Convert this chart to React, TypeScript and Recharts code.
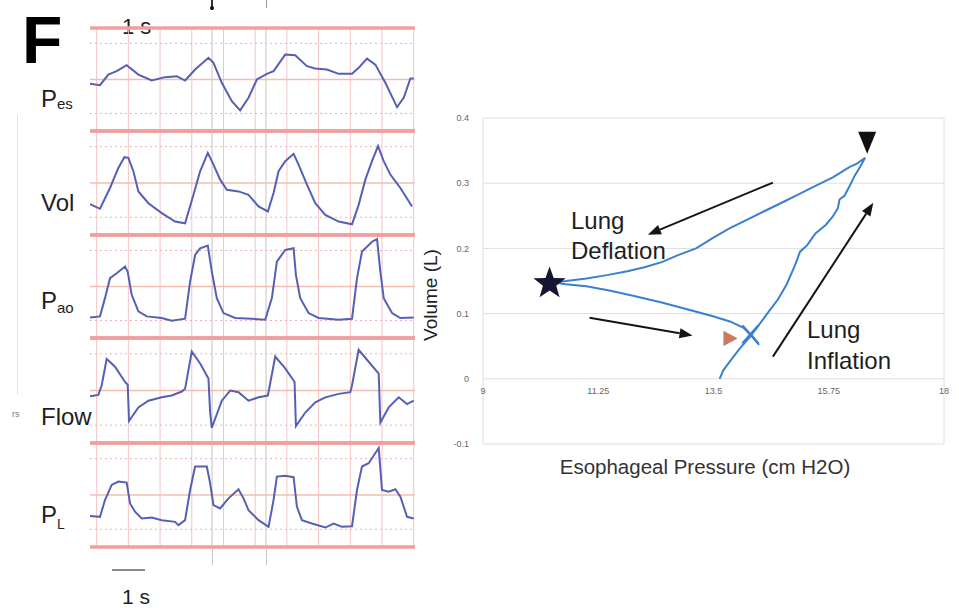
import React from 'react';
import {
  LineChart,
  Line,
  XAxis,
  YAxis,
  ReferenceLine,
  ComposedChart,
  CartesianGrid,
  Scatter,
  ReferenceDot,
} from 'recharts';

// ---------- Left panel: strip-chart traces (t in seconds, v in strip units 0..10) ----------
const pesTrace = [
  { t: -0.21, v: 4.58 }, { t: 0.105, v: 4.45 }, { t: 0.368, v: 5.48 }, { t: 0.63, v: 5.81 },
  { t: 0.947, v: 6.39 }, { t: 1.316, v: 5.48 }, { t: 1.737, v: 4.9 }, { t: 2.158, v: 5.23 },
  { t: 2.526, v: 5.32 }, { t: 2.789, v: 4.9 }, { t: 3.105, v: 5.97 }, { t: 3.526, v: 7.1 },
  { t: 3.684, v: 6.61 }, { t: 3.947, v: 4.68 }, { t: 4.263, v: 2.9 }, { t: 4.526, v: 2.0 },
  { t: 4.789, v: 3.23 }, { t: 5.053, v: 5.0 }, { t: 5.368, v: 5.55 }, { t: 5.579, v: 5.81 },
  { t: 5.947, v: 7.42 }, { t: 6.263, v: 7.35 }, { t: 6.632, v: 6.29 }, { t: 6.895, v: 6.06 },
  { t: 7.263, v: 5.97 }, { t: 7.632, v: 5.55 }, { t: 8.053, v: 5.55 }, { t: 8.263, v: 6.13 },
  { t: 8.526, v: 7.03 }, { t: 8.789, v: 6.45 }, { t: 9.105, v: 4.68 }, { t: 9.474, v: 2.32 },
  { t: 9.684, v: 3.23 }, { t: 9.895, v: 5.1 }, { t: 10.0, v: 5.1 },
];

const volTrace = [
  { t: -0.21, v: 2.97 }, { t: 0.105, v: 2.52 }, { t: 0.421, v: 4.52 }, { t: 0.684, v: 6.45 },
  { t: 0.874, v: 7.48 }, { t: 1.0, v: 7.42 }, { t: 1.158, v: 6.13 }, { t: 1.316, v: 4.19 },
  { t: 1.632, v: 3.06 }, { t: 2.053, v: 2.1 }, { t: 2.474, v: 1.29 }, { t: 2.789, v: 1.13 },
  { t: 3.053, v: 3.87 }, { t: 3.263, v: 6.13 }, { t: 3.505, v: 7.9 }, { t: 3.684, v: 6.77 },
  { t: 3.895, v: 5.32 }, { t: 4.105, v: 4.35 }, { t: 4.474, v: 4.19 }, { t: 4.789, v: 3.87 },
  { t: 5.105, v: 2.74 }, { t: 5.4, v: 2.26 }, { t: 5.579, v: 4.03 }, { t: 5.737, v: 6.13 },
  { t: 5.947, v: 7.1 }, { t: 6.211, v: 7.81 }, { t: 6.368, v: 6.77 }, { t: 6.632, v: 4.84 },
  { t: 6.895, v: 3.06 }, { t: 7.211, v: 1.94 }, { t: 7.632, v: 1.29 }, { t: 8.053, v: 1.03 },
  { t: 8.263, v: 2.9 }, { t: 8.474, v: 5.32 }, { t: 8.684, v: 7.1 }, { t: 8.874, v: 8.55 },
  { t: 9.053, v: 7.1 }, { t: 9.263, v: 5.81 }, { t: 9.579, v: 4.52 }, { t: 9.947, v: 2.74 },
];

const paoTrace = [
  { t: -0.21, v: 2.0 }, { t: 0.105, v: 2.1 }, { t: 0.263, v: 3.87 }, { t: 0.421, v: 5.81 },
  { t: 0.632, v: 6.29 }, { t: 0.895, v: 6.94 }, { t: 0.979, v: 6.45 }, { t: 1.105, v: 4.19 },
  { t: 1.316, v: 2.58 }, { t: 1.579, v: 2.1 }, { t: 2.053, v: 1.94 }, { t: 2.368, v: 1.68 },
  { t: 2.789, v: 1.87 }, { t: 2.947, v: 5.48 }, { t: 3.105, v: 8.06 }, { t: 3.263, v: 8.71 },
  { t: 3.505, v: 8.97 }, { t: 3.632, v: 6.45 }, { t: 3.789, v: 3.87 }, { t: 4.0, v: 2.42 },
  { t: 4.368, v: 1.94 }, { t: 4.895, v: 1.87 }, { t: 5.316, v: 1.77 }, { t: 5.526, v: 3.87 },
  { t: 5.684, v: 7.42 }, { t: 5.947, v: 8.55 }, { t: 6.211, v: 8.71 }, { t: 6.284, v: 6.13 },
  { t: 6.421, v: 3.87 }, { t: 6.684, v: 2.42 }, { t: 7.0, v: 1.94 }, { t: 7.632, v: 1.77 },
  { t: 8.053, v: 1.87 }, { t: 8.211, v: 5.81 }, { t: 8.368, v: 8.39 }, { t: 8.684, v: 9.35 },
  { t: 8.842, v: 9.61 }, { t: 8.947, v: 6.45 }, { t: 9.053, v: 3.87 }, { t: 9.316, v: 2.42 },
  { t: 9.579, v: 1.94 }, { t: 10.0, v: 2.0 },
];

const flowTrace = [
  { t: -0.21, v: 4.45 }, { t: 0.053, v: 4.58 }, { t: 0.158, v: 5.48 }, { t: 0.316, v: 8.0 },
  { t: 0.579, v: 7.26 }, { t: 0.895, v: 5.81 }, { t: 0.979, v: 5.55 }, { t: 1.021, v: 2.1 },
  { t: 1.316, v: 3.39 }, { t: 1.632, v: 4.03 }, { t: 2.053, v: 4.35 }, { t: 2.368, v: 4.52 },
  { t: 2.684, v: 4.9 }, { t: 2.789, v: 5.16 }, { t: 3.0, v: 8.71 }, { t: 3.263, v: 7.58 },
  { t: 3.526, v: 6.13 }, { t: 3.579, v: 2.9 }, { t: 3.632, v: 1.45 }, { t: 3.947, v: 4.03 },
  { t: 4.211, v: 5.0 }, { t: 4.474, v: 4.84 }, { t: 4.789, v: 4.03 }, { t: 5.105, v: 4.35 },
  { t: 5.4, v: 4.52 }, { t: 5.632, v: 8.23 }, { t: 5.947, v: 7.1 }, { t: 6.242, v: 5.81 },
  { t: 6.284, v: 1.61 }, { t: 6.579, v: 2.9 }, { t: 6.895, v: 3.87 }, { t: 7.211, v: 4.35 },
  { t: 7.632, v: 4.68 }, { t: 8.0, v: 4.84 }, { t: 8.053, v: 5.48 }, { t: 8.263, v: 8.87 },
  { t: 8.579, v: 7.74 }, { t: 8.895, v: 6.61 }, { t: 8.947, v: 1.94 }, { t: 9.211, v: 3.39 },
  { t: 9.526, v: 4.35 }, { t: 9.789, v: 3.71 }, { t: 10.0, v: 4.03 },
];

const plTrace = [
  { t: -0.21, v: 2.97 }, { t: 0.105, v: 2.9 }, { t: 0.263, v: 4.52 }, { t: 0.474, v: 5.97 },
  { t: 0.684, v: 6.29 }, { t: 0.947, v: 6.19 }, { t: 1.053, v: 4.19 }, { t: 1.211, v: 3.39 },
  { t: 1.421, v: 2.74 }, { t: 1.737, v: 2.84 }, { t: 2.053, v: 2.58 }, { t: 2.474, v: 2.42 },
  { t: 2.579, v: 2.1 }, { t: 2.789, v: 2.58 }, { t: 2.947, v: 5.48 }, { t: 3.105, v: 7.74 },
  { t: 3.474, v: 7.74 }, { t: 3.579, v: 6.13 }, { t: 3.684, v: 4.03 }, { t: 3.895, v: 3.71 },
  { t: 4.158, v: 4.68 }, { t: 4.474, v: 5.55 }, { t: 4.632, v: 4.68 }, { t: 4.789, v: 3.55 },
  { t: 5.105, v: 2.58 }, { t: 5.421, v: 1.94 }, { t: 5.579, v: 4.52 }, { t: 5.684, v: 6.77 },
  { t: 5.947, v: 6.84 }, { t: 6.211, v: 6.71 }, { t: 6.316, v: 3.87 }, { t: 6.474, v: 2.58 },
  { t: 6.789, v: 2.26 }, { t: 7.211, v: 1.87 }, { t: 7.474, v: 2.26 }, { t: 7.737, v: 1.94 },
  { t: 8.053, v: 2.0 }, { t: 8.211, v: 5.48 }, { t: 8.368, v: 7.74 }, { t: 8.579, v: 8.06 },
  { t: 8.895, v: 9.52 }, { t: 9.0, v: 5.48 }, { t: 9.211, v: 5.32 }, { t: 9.421, v: 5.55 },
  { t: 9.579, v: 4.84 }, { t: 9.789, v: 2.9 }, { t: 10.0, v: 2.74 },
];

const stripNames = ['Pes', 'Vol', 'Pao', 'Flow', 'PL'];
const stripTraces = [pesTrace, volTrace, paoTrace, flowTrace, plTrace];
const gridSeconds = [0, 1, 2, 3, 4, 5, 6, 7, 8, 9, 10];
const markerTimes = [3.64, 5.34];
const stripTimeDomain = [-0.21, 10.04];

// ---------- Right panel: pressure-volume loop ----------
const loopCurve = [
  // inflation limb
  { p: 13.62, v: 0.0 }, { p: 13.69, v: 0.013 }, { p: 13.86, v: 0.031 }, { p: 14.02, v: 0.047 },
  { p: 14.22, v: 0.065 }, { p: 14.39, v: 0.083 }, { p: 14.56, v: 0.101 }, { p: 14.76, v: 0.122 },
  { p: 14.93, v: 0.145 }, { p: 15.09, v: 0.174 }, { p: 15.19, v: 0.195 }, { p: 15.33, v: 0.205 },
  { p: 15.49, v: 0.223 }, { p: 15.69, v: 0.236 }, { p: 15.83, v: 0.249 }, { p: 15.93, v: 0.262 },
  { p: 15.96, v: 0.275 }, { p: 16.06, v: 0.281 }, { p: 16.16, v: 0.296 }, { p: 16.26, v: 0.312 },
  { p: 16.36, v: 0.325 }, { p: 16.46, v: 0.339 },
  // deflation limb
  { p: 16.3, v: 0.33 }, { p: 16.16, v: 0.325 }, { p: 15.83, v: 0.309 }, { p: 15.49, v: 0.296 },
  { p: 15.16, v: 0.283 }, { p: 14.83, v: 0.27 }, { p: 14.49, v: 0.257 }, { p: 14.16, v: 0.244 },
  { p: 13.82, v: 0.231 }, { p: 13.49, v: 0.216 }, { p: 13.16, v: 0.2 }, { p: 12.82, v: 0.19 },
  { p: 12.49, v: 0.179 }, { p: 12.15, v: 0.171 }, { p: 11.82, v: 0.165 }, { p: 11.42, v: 0.159 },
  { p: 11.02, v: 0.154 }, { p: 10.62, v: 0.15 }, { p: 10.35, v: 0.148 },
  // return limb
  { p: 10.62, v: 0.145 }, { p: 11.02, v: 0.142 }, { p: 11.49, v: 0.135 }, { p: 11.95, v: 0.127 },
  { p: 12.49, v: 0.117 }, { p: 13.02, v: 0.106 }, { p: 13.49, v: 0.096 }, { p: 13.82, v: 0.088 },
  { p: 14.09, v: 0.078 }, { p: 14.26, v: 0.065 }, { p: 14.39, v: 0.052 },
];

const starPoint = [{ p: 10.3, v: 0.146 }];
const endTriangle = [{ p: 16.5, v: 0.362 }];
const crossPoint = [{ p: 14.22, v: 0.068 }];
const startTriangle = [{ p: 13.82, v: 0.062 }];

const arrowSegments = [
  { from: { p: 14.66, v: 0.301 }, to: { p: 12.22, v: 0.221 } },
  { from: { p: 11.08, v: 0.0935 }, to: { p: 13.09, v: 0.0665 } },
  { from: { p: 14.66, v: 0.034 }, to: { p: 16.62, v: 0.27 } },
];

const xTicks = [9, 11.25, 13.5, 15.75, 18];
const yTicks = [-0.1, 0, 0.1, 0.2, 0.3, 0.4];

const FONT = "'Liberation Sans', Arial, Helvetica, sans-serif";
const HEAVY = '#ee9f9f';
const LIGHT = '#f5c4c4';
const TRACE = '#5560b5';
const LOOP = '#3a80d0';

const stripTops = [28, 131, 235, 338, 443, 547];

function Strip({ data, top, height }: { data: any[]; top: number; height: number }) {
  const pad = 3;
  return (
    <div style={{ position: 'absolute', left: 90, top: top - pad, width: 325, height: height + pad * 2 }}>
      <LineChart width={325} height={height + pad * 2} data={data} margin={{ top: pad, right: 0, bottom: pad, left: 0 }}>
        <XAxis dataKey="t" type="number" domain={stripTimeDomain} hide allowDataOverflow />
        <YAxis type="number" domain={[0, 10]} hide allowDataOverflow />
        {gridSeconds.map((s) => (
          <ReferenceLine key={'g' + s} x={s} stroke={LIGHT} strokeWidth={1} />
        ))}
        {markerTimes.map((s) => (
          <ReferenceLine key={'m' + s} x={s} stroke="#c9c2c2" strokeWidth={1} />
        ))}
        <ReferenceLine y={1.7} stroke="#f0b0b0" strokeDasharray="2 3" />
        <ReferenceLine y={5} stroke="#f2bfae" strokeWidth={1.5} />
        <ReferenceLine y={8.5} stroke="#f0b0b0" strokeDasharray="2 3" />
        <ReferenceLine y={10} stroke={HEAVY} strokeWidth={3.5} />
        <ReferenceLine y={0} stroke={HEAVY} strokeWidth={3.5} />
        <Line type="linear" dataKey="v" stroke={TRACE} strokeWidth={2} dot={false} isAnimationActive={false} />
      </LineChart>
    </div>
  );
}

const Arrow = (props: any) => {
  const { x1, y1, x2, y2 } = props;
  if ([x1, y1, x2, y2].some((n) => typeof n !== 'number' || isNaN(n))) return <g />;
  const ang = Math.atan2(y2 - y1, x2 - x1);
  const L = 13;
  const W = 5;
  const bx = x2 - L * Math.cos(ang);
  const by = y2 - L * Math.sin(ang);
  const px = -Math.sin(ang) * W;
  const py = Math.cos(ang) * W;
  return (
    <g>
      <line x1={x1} y1={y1} x2={bx} y2={by} stroke="#151515" strokeWidth={2} />
      <polygon points={`${x2},${y2} ${bx + px},${by + py} ${bx - px},${by - py}`} fill="#151515" />
    </g>
  );
};

const StarShape = (props: any) => {
  const { cx, cy } = props;
  const pts: string[] = [];
  for (let i = 0; i < 10; i++) {
    const r = i % 2 === 0 ? 17 : 7;
    const a = -Math.PI / 2 + (i * Math.PI) / 5;
    pts.push(`${cx + r * Math.cos(a)},${cy + r * Math.sin(a)}`);
  }
  return <polygon points={pts.join(' ')} fill="#161633" />;
};

const DownTriangle = (props: any) => {
  const { cx, cy } = props;
  return <polygon points={`${cx - 9},${cy - 11} ${cx + 9},${cy - 11} ${cx},${cy + 11}`} fill="#111" />;
};

const CrossShape = (props: any) => {
  const { cx, cy } = props;
  return (
    <g stroke={LOOP} strokeWidth={2.5}>
      <line x1={cx - 8} y1={cy - 9} x2={cx + 8} y2={cy + 9} />
      <line x1={cx - 8} y1={cy + 9} x2={cx + 8} y2={cy - 9} />
    </g>
  );
};

const RightTriangle = (props: any) => {
  const { cx, cy } = props;
  return (
    <polygon
      points={`${cx - 6},${cy - 7} ${cx + 7},${cy} ${cx - 6},${cy + 7}`}
      fill="#d9735c"
      stroke="#a09090"
      strokeWidth={1}
    />
  );
};

function Txt({ x, baseline, size, children, style }: any) {
  return (
    <div
      style={{
        position: 'absolute',
        left: x,
        top: baseline - size * 0.845,
        fontSize: size,
        lineHeight: `${size}px`,
        fontFamily: FONT,
        color: '#1e1e1e',
        whiteSpace: 'nowrap',
        ...style,
      }}
    >
      {children}
    </div>
  );
}

export default function App() {
  return (
    <div style={{ position: 'absolute', left: 0, top: 0, width: 959, height: 608, background: '#fff', overflow: 'hidden' }}>
      {/* Panel letter */}
      <Txt x={22} baseline={63} size={66} style={{ fontWeight: 'bold', color: '#000' }}>F</Txt>
      <Txt x={122} baseline={35} size={22}>1 s</Txt>

      {/* strip labels */}
      <Txt x={41} baseline={107} size={24}>
        P<span style={{ fontSize: 15, verticalAlign: '-2px' }}>es</span>
      </Txt>
      <Txt x={41} baseline={211} size={24}>{stripNames[1]}</Txt>
      <Txt x={41} baseline={309} size={24}>
        P<span style={{ fontSize: 15, verticalAlign: '-4px' }}>ao</span>
      </Txt>
      <Txt x={41} baseline={425} size={24}>{stripNames[3]}</Txt>
      <Txt x={41} baseline={523} size={24}>
        P<span style={{ fontSize: 14, verticalAlign: '-6px' }}>L</span>
      </Txt>
      <Txt x={12} baseline={418} size={9} style={{ color: '#777' }}>rs</Txt>
      <div style={{ position: 'absolute', left: 17, top: 115, width: 1, height: 280, background: '#e2e2e2' }} />

      {/* strips */}
      {stripTraces.map((d, i) => (
        <Strip key={i} data={d} top={stripTops[i]} height={stripTops[i + 1] - stripTops[i]} />
      ))}

      {/* event marks above / below the strips */}
      <div style={{ position: 'absolute', left: 211, top: 0, width: 1.5, height: 10, background: '#333' }} />
      <div style={{ position: 'absolute', left: 209.5, top: 6, width: 4, height: 4, borderRadius: 2, background: '#111' }} />
      <div style={{ position: 'absolute', left: 265.5, top: 0, width: 1, height: 8, background: '#999' }} />
      <div style={{ position: 'absolute', left: 211.5, top: 549, width: 1, height: 16, background: '#c8c8c8' }} />
      <div style={{ position: 'absolute', left: 265.5, top: 549, width: 1, height: 16, background: '#c8c8c8' }} />

      {/* scale bar */}
      <div style={{ position: 'absolute', left: 112, top: 569, width: 33, height: 2, background: '#888' }} />
      <Txt x={122} baseline={604} size={21}>1 s</Txt>

      {/* right panel */}
      <div style={{ position: 'absolute', left: 400, top: 100, width: 560, height: 370 }}>
        <ComposedChart width={560} height={370} margin={{ top: 18, right: 16, bottom: 0, left: 63 }}>
          <CartesianGrid stroke="#dedede" strokeWidth={1} />
          <XAxis
            dataKey="p"
            type="number"
            domain={[9, 18]}
            ticks={xTicks}
            tick={false}
            axisLine={false}
            tickLine={false}
            height={26}
            allowDataOverflow
          />
          <YAxis
            dataKey="v"
            type="number"
            domain={[-0.1, 0.4]}
            ticks={yTicks}
            tick={{ fontSize: 9, fill: '#666', fontFamily: FONT }}
            tickLine={false}
            axisLine={false}
            tickSize={0}
            tickMargin={14}
            width={20}
            allowDataOverflow
          />
          {xTicks.map((t) => (
            <ReferenceDot
              key={'xt' + t}
              x={t}
              y={0}
              r={0.01}
              fill="none"
              stroke="none"
              label={{ value: String(t), position: 'bottom', offset: 9, fontSize: 9, fill: '#666', fontFamily: FONT }}
            />
          ))}
          <Line
            data={loopCurve}
            dataKey="v"
            type="linear"
            stroke={LOOP}
            strokeWidth={2}
            dot={false}
            isAnimationActive={false}
          />
          {arrowSegments.map((a, i) => (
            <ReferenceLine
              key={'ar' + i}
              segment={[
                { x: a.from.p, y: a.from.v },
                { x: a.to.p, y: a.to.v },
              ]}
              shape={Arrow}
              ifOverflow="visible"
            />
          ))}
          <Scatter data={starPoint} dataKey="v" shape={StarShape} isAnimationActive={false} />
          <Scatter data={endTriangle} dataKey="v" shape={DownTriangle} isAnimationActive={false} />
          <Scatter data={crossPoint} dataKey="v" shape={CrossShape} isAnimationActive={false} />
          <Scatter data={startTriangle} dataKey="v" shape={RightTriangle} isAnimationActive={false} />
        </ComposedChart>
      </div>

      {/* annotations */}
      <Txt x={571} baseline={229} size={24}>Lung</Txt>
      <Txt x={571} baseline={259} size={24}>Deflation</Txt>
      <Txt x={807} baseline={338} size={24}>Lung</Txt>
      <Txt x={807} baseline={369} size={24}>Inflation</Txt>

      {/* axis titles */}
      <div
        style={{
          position: 'absolute',
          left: 505,
          width: 400,
          top: 455,
          textAlign: 'center',
          fontSize: 20.5,
          fontFamily: FONT,
          color: '#333',
          whiteSpace: 'nowrap',
        }}
      >
        Esophageal Pressure (cm H2O)
      </div>
      <div
        style={{
          position: 'absolute',
          left: 431 - 80,
          top: 295 - 12,
          width: 160,
          height: 24,
          lineHeight: '24px',
          textAlign: 'center',
          transform: 'rotate(-90deg)',
          fontSize: 19,
          fontFamily: FONT,
          color: '#222',
          whiteSpace: 'nowrap',
        }}
      >
        Volume (L)
      </div>
    </div>
  );
}
